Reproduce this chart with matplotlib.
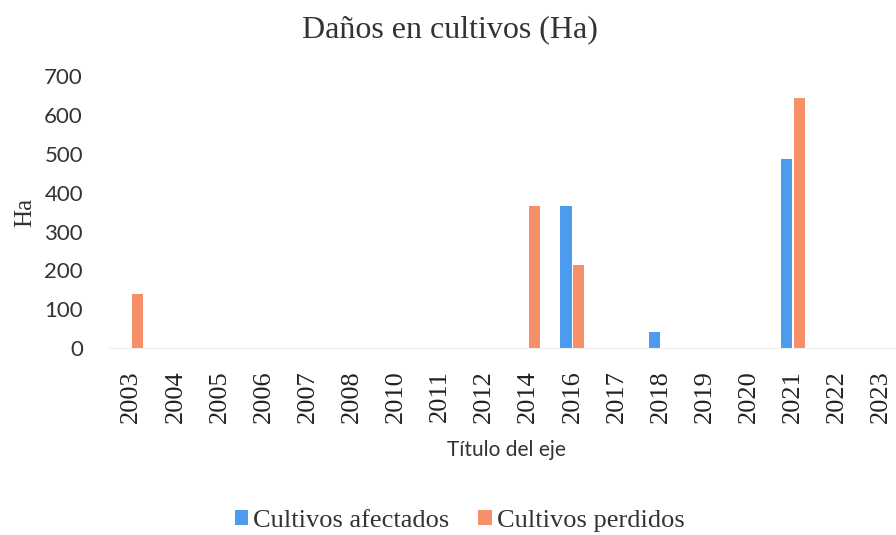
import matplotlib.pyplot as plt
import numpy as np

# datos
years = ['2003', '2004', '2005', '2006', '2007', '2008', '2010', '2011', '2012',
         '2014', '2016', '2017', '2018', '2019', '2020', '2021', '2022', '2023']
afectados = [0, 0, 0, 0, 0, 0, 0, 0, 0, 0, 367, 0, 41, 0, 0, 486, 0, 0]
perdidos = [140, 0, 0, 0, 0, 0, 0, 0, 0, 365, 215, 0, 0, 0, 0, 644, 0, 0]
yticks = [0, 100, 200, 300, 400, 500, 600, 700]

blue = '#4c9bef'
orange = '#f78f68'
serif = 'Liberation Serif'
sans = 'Lato'

fig = plt.figure(figsize=(8.96, 5.35), dpi=100)
ax = fig.add_axes([0.122, 0.3495, 0.886, 0.508])

x = np.arange(len(years))
w = 0.25
ax.bar(x - 0.145, afectados, w, color=blue, label='Cultivos afectados')
ax.bar(x + 0.145, perdidos, w, color=orange, label='Cultivos perdidos')

ax.set_xlim(-0.5, len(years) - 0.5)
ax.set_ylim(0, 700)
ax.set_xticks(x)
ax.set_xticklabels(years, rotation=90, fontfamily=serif, fontsize=19, color='#222222')
ax.set_yticks(yticks)
ax.set_yticklabels([str(v) for v in yticks], fontfamily=sans, fontsize=16, color='#333333')
ax.tick_params(axis='y', length=0, pad=19)
ax.tick_params(axis='x', length=0, pad=16)

for s in ['top', 'right', 'left']:
    ax.spines[s].set_visible(False)
ax.spines['bottom'].set_color('#eeeeee')

ax.set_ylabel('Ha', fontfamily=serif, fontsize=18, color='#333333', labelpad=6)
ax.set_xlabel('Título del eje', fontfamily=sans, fontsize=15, color='#333333', labelpad=12)

fig.text(0.502, 0.945, 'Daños en cultivos (Ha)', ha='center', va='center',
         fontfamily=serif, fontsize=23, color='#333333')

fig.legend(loc='center', bbox_to_anchor=(0.513, 0.027), ncol=2, frameon=False,
           prop={'family': serif, 'size': 19}, handlelength=0.5, handleheight=0.5,
           handletextpad=0.2, columnspacing=1.1, labelcolor='#333333')

fig.savefig('out.png', dpi=100)
